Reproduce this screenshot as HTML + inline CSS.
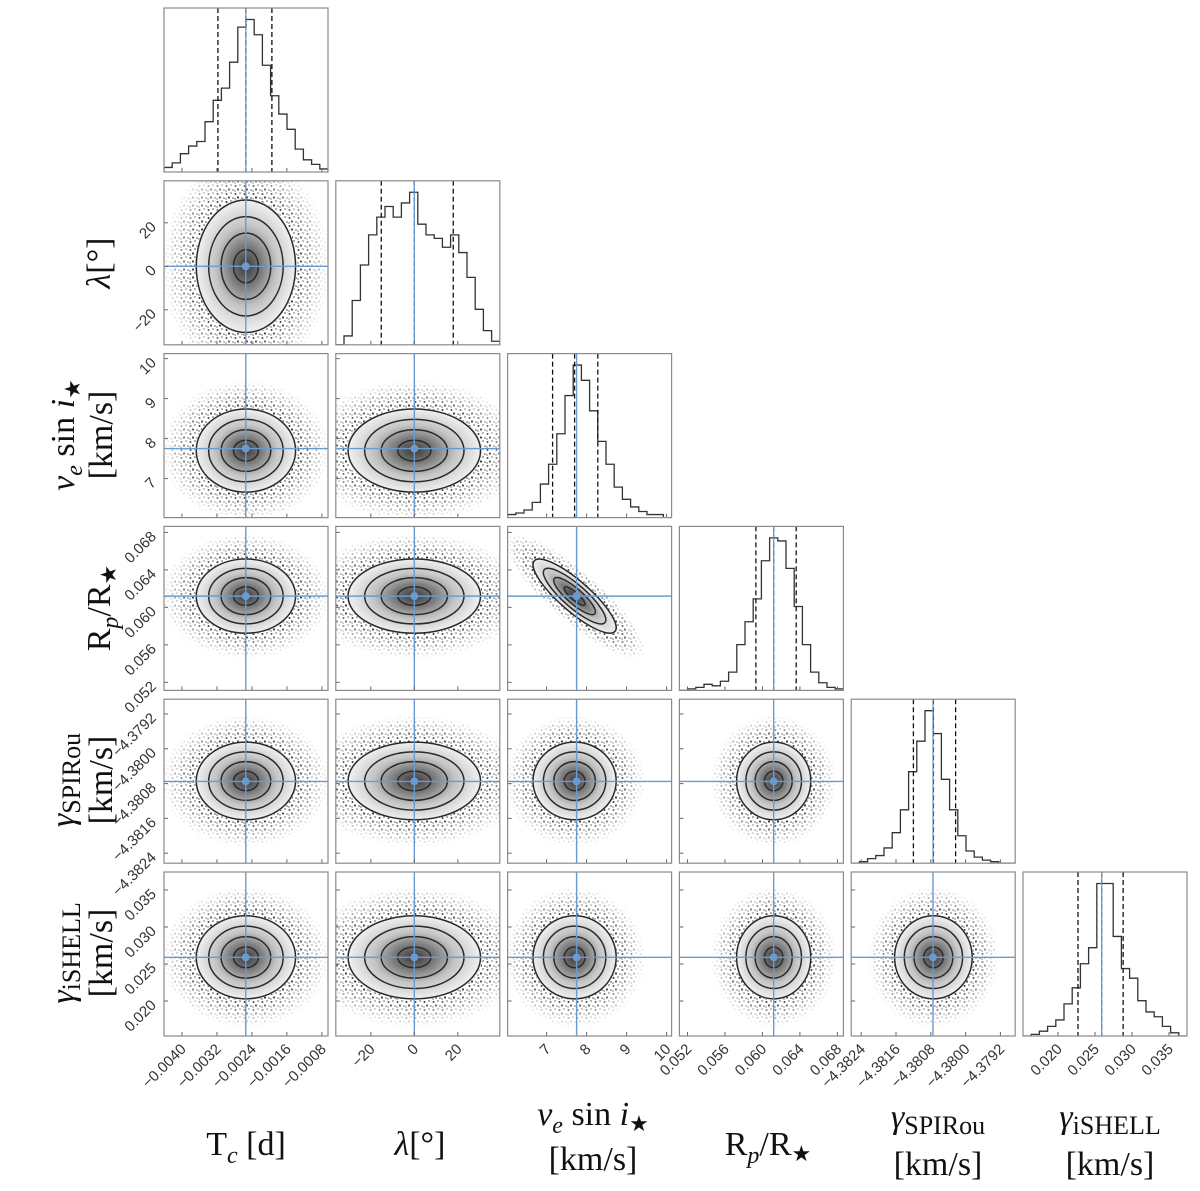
<!DOCTYPE html>
<html><head><meta charset="utf-8">
<style>
html,body{margin:0;padding:0;background:#fff;}
svg{display:block;}
.tk{font-family:"Liberation Sans",sans-serif;font-size:15px;fill:#333;}
.lab{font-family:"Liberation Serif",serif;font-size:34px;fill:#111;}
</style></head>
<body>
<svg id="fig" width="1200" height="1191" viewBox="0 0 1200 1191" xmlns="http://www.w3.org/2000/svg">
<defs>
  <pattern id="dots" patternUnits="userSpaceOnUse" width="9" height="8">
    <circle cx="1.5" cy="2" r="1" fill="#111"/>
    <circle cx="6" cy="1" r="0.8" fill="#222"/>
    <circle cx="4" cy="5.5" r="1.1" fill="#111"/>
    <circle cx="8" cy="6" r="0.8" fill="#222"/>
    <circle cx="1" cy="7" r="0.7" fill="#333"/>
  </pattern>
  <radialGradient id="fade">
    <stop offset="0" stop-color="#fff"/>
    <stop offset="0.55" stop-color="#fff"/>
    <stop offset="1" stop-color="#000"/>
  </radialGradient>
  <radialGradient id="dens">
    <stop offset="0" stop-color="#3a3a3a"/>
    <stop offset="0.3" stop-color="#7a7a7a"/>
    <stop offset="0.6" stop-color="#c4c4c4"/>
    <stop offset="1" stop-color="#f3f3f3"/>
  </radialGradient>
</defs>
<g id="panels"></g>
<g id="labels"></g>
</svg>
<script>
// ---- data ----
const paramNames = ["Tc","lambda","vsini","RpRs","gammaSPIRou","gammaiSHELL"];
const axisMin = [-0.00441, -36.1, 6.025, 0.05114, -4.38263, 0.01527];
const axisMax = [-0.00066, 39.3, 10.125, 0.06864, -4.37886, 0.03743];
const q16 = [-0.003177, -15.2, 7.15, 0.0593, -4.38120, 0.0227];
const q50 = [-0.002537, 0.0, 7.70, 0.0612, -4.38074, 0.0259];
const q84 = [-0.001943, 17.9, 8.28, 0.0636, -4.38023, 0.0288];
const truths = [-0.00254, 0.0, 7.75, 0.0612, -4.38075, 0.0259];
const corrPairs = [[2,3,-0.85]];
const ticksTc = [-0.0040,-0.0032,-0.0024,-0.0016,-0.0008];
const ticksLam = [-20,0,20];
const ticksVs = [7,8,9,10];
const ticksRp = [0.052,0.056,0.060,0.064,0.068];
const ticksGS = [-4.3824,-4.3816,-4.3808,-4.3800,-4.3792];
const ticksGI = [0.020,0.025,0.030,0.035];
const labTc = ["\u22120.0040","\u22120.0032","\u22120.0024","\u22120.0016","\u22120.0008"];
const labLam = ["\u221220","0","20"];
const labVs = ["7","8","9","10"];
const labRp = ["0.052","0.056","0.060","0.064","0.068"];
const labGS = ["\u22124.3824","\u22124.3816","\u22124.3808","\u22124.3800","\u22124.3792"];
const labGI = ["0.020","0.025","0.030","0.035"];
const histTc = [0.03,0.06,0.12,0.17,0.2,0.33,0.47,0.55,0.72,0.95,1.0,0.9,0.7,0.5,0.38,0.28,0.15,0.08,0.05,0.02];
const histLam = [0.0,0.05,0.25,0.45,0.62,0.72,0.78,0.72,0.8,0.86,0.68,0.62,0.6,0.55,0.62,0.52,0.38,0.2,0.08,0.02];
const histVs = [0.02,0.03,0.05,0.1,0.22,0.35,0.55,0.8,1.0,0.9,0.7,0.5,0.35,0.2,0.12,0.07,0.04,0.02,0.02,0.0];
const histRp = [0,0.01,0.02,0.04,0.03,0.06,0.12,0.3,0.45,0.6,0.85,1.0,0.98,0.8,0.55,0.3,0.12,0.05,0.02,0.01];
const histGS = [0,0.01,0.03,0.05,0.1,0.2,0.35,0.6,0.8,1.0,0.85,0.55,0.35,0.18,0.08,0.04,0.02,0.01,0,0];
const histGI = [0,0.01,0.03,0.06,0.1,0.2,0.3,0.45,0.55,0.95,0.95,0.62,0.42,0.36,0.22,0.15,0.12,0.06,0.02,0.0];

const ticks = [ticksTc,ticksLam,ticksVs,ticksRp,ticksGS,ticksGI];
const tickLabels = [labTc,labLam,labVs,labRp,labGS,labGI];
const hists = [histTc,histLam,histVs,histRp,histGS,histGI];

// ---- layout ----
const NS = "http://www.w3.org/2000/svg";
const S = 164;
const KS = 0.92;
function X0(i){ return 164 + i*171.8; }
function Y0(j){ return 8 + j*172.8; }
function sx(i,v){ return X0(i) + (v-axisMin[i])/(axisMax[i]-axisMin[i])*S; }
function sy(j,v){ return Y0(j) + S - (v-axisMin[j])/(axisMax[j]-axisMin[j])*S; }
function corr(i,j){ for(const c of corrPairs){ if((c[0]===i&&c[1]===j)||(c[0]===j&&c[1]===i)) return c[2]; } return 0; }
function mk(tag, attrs, parent){ const e=document.createElementNS(NS,tag); for(const k in attrs) e.setAttribute(k,attrs[k]); if(parent) parent.appendChild(e); return e; }

const G = document.getElementById('panels');
const BLUE = "#6a9ad0";

for(let j=0;j<6;j++){
  for(let i=0;i<=j;i++){
    const g = mk('g',{},G);
    
    
    const x0=X0(i), y0=Y0(j);
    const cid='clip'+i+'_'+j;
    const cp = mk('clipPath',{id:cid},g);
    mk('rect',{x:x0,y:y0,width:S,height:S},cp);
    const inner = mk('g',{'clip-path':'url(#'+cid+')'},g);
    if(i===j){
      const h = hists[i]; const n=h.length; const mx=Math.max(...h);
      const bw=(axisMax[i]-axisMin[i])/n;
      let d='';
      for(let b=0;b<n;b++){
        const xa=sx(i,axisMin[i]+b*bw), xb=sx(i,axisMin[i]+(b+1)*bw);
        const yy=y0+S-h[b]/mx*S*0.93;
        d += (b===0?'M'+xa+','+(y0+S)+' L'+xa+','+yy:' L'+xa+','+yy)+' L'+xb+','+yy;
      }
      d += ' L'+sx(i,axisMax[i])+','+(y0+S);
      const p = mk('path',{d:d,fill:'none',stroke:'#333','stroke-width':1.3},inner);
      
      
      [q16[i],q50[i],q84[i]].forEach(q=>{
        const l = mk('line',{x1:sx(i,q),x2:sx(i,q),y1:y0,y2:y0+S,stroke:'#111','stroke-width':1.3,'stroke-dasharray':'5,3'},inner);
        
        
      });
      const t = mk('line',{x1:sx(i,truths[i]),x2:sx(i,truths[i]),y1:y0,y2:y0+S,stroke:BLUE,'stroke-width':1.3},inner);
      
      
    } else {
      const cx=sx(i,q50[i]), cy=sy(j,q50[j]);
      const sgx=(q84[i]-q16[i])/2/(axisMax[i]-axisMin[i])*S*KS;
      const sgy=(q84[j]-q16[j])/2/(axisMax[j]-axisMin[j])*S*KS;
      const r=corr(i,j);
      const a=sgx*sgx, b=sgy*sgy, c=-r*sgx*sgy;
      const m=(a+b)/2, dd=Math.sqrt(((a-b)/2)**2+c*c);
      const l1=m+dd, l2=m-dd;
      const ang=0.5*Math.atan2(2*c,a-b)*180/Math.PI;
      const e1=Math.sqrt(l1), e2=Math.sqrt(l2);
      const tr='rotate('+ang+' '+cx+' '+cy+')';
      const mid='m'+i+'_'+j;
      const mask=mk('mask',{id:mid,maskUnits:'userSpaceOnUse',x:x0,y:y0,width:S,height:S},g);
      mk('ellipse',{cx:cx,cy:cy,rx:e1*3.4,ry:e2*3.4,fill:'url(#fade)',transform:tr},mask);
      const cloud = mk('rect',{x:x0,y:y0,width:S,height:S,fill:'url(#dots)',mask:'url(#'+mid+')'},inner);
      
      
      mk('ellipse',{cx:cx,cy:cy,rx:e1*2.05,ry:e2*2.05,fill:'url(#dens)',transform:tr},inner);
      [0.5,1,1.5,2].forEach(k=>{
        const el = mk('ellipse',{cx:cx,cy:cy,rx:e1*k,ry:e2*k,fill:'none',stroke:'#2a2a2a','stroke-width':1.5,transform:tr},inner);
        
        
      });
      const tx=sx(i,truths[i]), ty=sy(j,truths[j]);
      mk('line',{x1:tx,x2:tx,y1:y0,y2:y0+S,stroke:BLUE,'stroke-width':1.4},inner);
      mk('line',{x1:x0,x2:x0+S,y1:ty,y2:ty,stroke:BLUE,'stroke-width':1.4},inner);
      const dot = mk('circle',{cx:tx,cy:ty,r:4,fill:BLUE},inner);
      
      
    }
    ticks[i].forEach(v=>{ const x=sx(i,v); mk('line',{x1:x,x2:x,y1:y0+S,y2:y0+S-4,stroke:'#666','stroke-width':1},g); });
    if(i!==j) ticks[j].forEach(v=>{ const y=sy(j,v); mk('line',{x1:x0,x2:x0+4,y1:y,y2:y,stroke:'#666','stroke-width':1},g); });
    mk('rect',{x:x0,y:y0,width:S,height:S,fill:'none',stroke:'#8a8a8a','stroke-width':1.2},g);
    if(j===5){
      ticks[i].forEach((v,k)=>{
        const x=sx(i,v), y=y0+S+9;
        const t=mk('text',{x:x+5,y:y+5,'text-anchor':'end',class:'tk',transform:'rotate(-45 '+(x+5)+' '+(y+5)+')'},g);
        t.textContent=tickLabels[i][k];
      });
    }
    if(i===0 && j>0){
      ticks[j].forEach((v,k)=>{
        const y=sy(j,v), x=x0-7;
        const t=mk('text',{x:x,y:y+5,'text-anchor':'end',class:'tk',transform:'rotate(-45 '+x+' '+(y+5)+')'},g);
        t.textContent=tickLabels[j][k];
      });
    }
  }
}
</script>
<script>
(function(){
  const L=document.getElementById('labels');
  const html = `
  <text class="lab" x="246" y="1155" text-anchor="middle">T<tspan font-style="italic" font-size="24" dy="8">c</tspan><tspan dy="-8"> [d]</tspan></text>
  <text class="lab" x="420" y="1155" text-anchor="middle"><tspan font-style="italic">λ</tspan>[°]</text>
  <text class="lab" x="593" y="1125" text-anchor="middle"><tspan font-style="italic">v</tspan><tspan font-style="italic" font-size="24" dy="8">e</tspan><tspan dy="-8"> sin </tspan><tspan font-style="italic">i</tspan><tspan font-size="22" dy="6">★</tspan></text>
  <text class="lab" x="593" y="1170" text-anchor="middle">[km/s]</text>
  <text class="lab" x="768" y="1155" text-anchor="middle">R<tspan font-style="italic" font-size="24" dy="8">p</tspan><tspan dy="-8">/R</tspan><tspan font-size="22" dy="6">★</tspan></text>
  <text class="lab" x="938" y="1128" text-anchor="middle"><tspan font-style="italic">γ</tspan><tspan font-size="26" dy="6">SPIRou</tspan></text>
  <text class="lab" x="938" y="1175" text-anchor="middle">[km/s]</text>
  <text class="lab" x="1110" y="1128" text-anchor="middle"><tspan font-style="italic">γ</tspan><tspan font-size="26" dy="6">iSHELL</tspan></text>
  <text class="lab" x="1110" y="1175" text-anchor="middle">[km/s]</text>
  <text class="lab" x="0" y="0" text-anchor="middle" transform="translate(110,263) rotate(-90)"><tspan font-style="italic">λ</tspan>[°]</text>
  <text class="lab" x="0" y="0" text-anchor="middle" transform="translate(74,435) rotate(-90)"><tspan font-style="italic">v</tspan><tspan font-style="italic" font-size="24" dy="8">e</tspan><tspan dy="-8"> sin </tspan><tspan font-style="italic">i</tspan><tspan font-size="22" dy="6">★</tspan></text>
  <text class="lab" x="0" y="0" text-anchor="middle" transform="translate(112,435) rotate(-90)">[km/s]</text>
  <text class="lab" x="0" y="0" text-anchor="middle" transform="translate(110,608) rotate(-90)">R<tspan font-style="italic" font-size="24" dy="8">p</tspan><tspan dy="-8">/R</tspan><tspan font-size="22" dy="6">★</tspan></text>
  <text class="lab" x="0" y="0" text-anchor="middle" transform="translate(74,780) rotate(-90)"><tspan font-style="italic">γ</tspan><tspan font-size="26" dy="6">SPIRou</tspan></text>
  <text class="lab" x="0" y="0" text-anchor="middle" transform="translate(112,780) rotate(-90)">[km/s]</text>
  <text class="lab" x="0" y="0" text-anchor="middle" transform="translate(74,953) rotate(-90)"><tspan font-style="italic">γ</tspan><tspan font-size="26" dy="6">iSHELL</tspan></text>
  <text class="lab" x="0" y="0" text-anchor="middle" transform="translate(112,953) rotate(-90)">[km/s]</text>`;
  L.innerHTML = html;
})();
</script>
</body></html>
